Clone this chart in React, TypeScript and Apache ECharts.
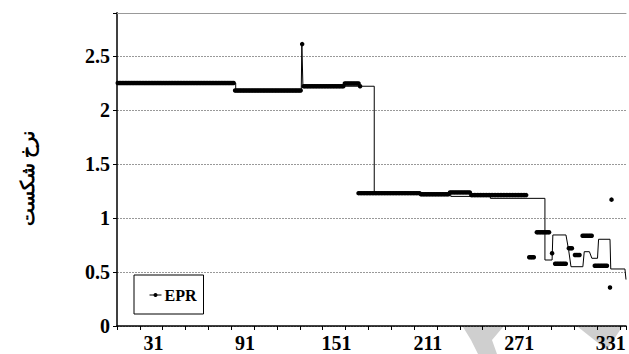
import React, { useEffect, useRef } from 'react';
import * as echarts from 'echarts';

// ---- data ----
const xMax = 334; // number of categories on the x axis
const xTickLabels = ['31', '91', '151', '211', '271', '331'];
const yTickLabels = ['0', '0.5', '1', '1.5', '2', '2.5'];
const yAxisName = 'نرخ شکست';
const legendName = 'EPR';

// EPR markers: runs of consecutive categories [firstCategory, lastCategory, value]
const eprRuns: [number, number, number][] = [
  [1, 77, 2.25],
  [78, 121, 2.18],
  [122, 122, 2.61],
  [123, 149, 2.22],
  [150, 159, 2.245],
  [160, 160, 2.22],
  [159, 199, 1.23],
  [200, 218, 1.22],
  [219, 232, 1.237],
  [233, 269, 1.212],
  [271, 274, 0.636],
  [276, 284, 0.868],
  [286, 286, 0.673],
  [288, 295, 0.577],
  [297, 299, 0.72],
  [301, 304, 0.657],
  [306, 312, 0.836],
  [314, 322, 0.558],
  [324, 324, 0.357],
  [325, 325, 1.17],
];

// thin reference line: vertices (x position on the category scale, value)
const lineX = [0, 77.9, 77.9, 120.9, 121.3, 122.0, 168.8, 168.8, 199, 199, 219, 219, 245, 245, 280.8, 280.8, 285.5, 286, 294.6, 296.4, 297.9, 305.7, 306.6, 310, 311.6, 315.3, 316, 323.5, 324, 333.3, 334];
const lineY = [2.25, 2.25, 2.18, 2.18, 2.61, 2.22, 2.22, 1.23, 1.23, 1.22, 1.22, 1.2, 1.2, 1.182, 1.182, 0.611, 0.611, 0.843, 0.843, 0.7, 0.549, 0.549, 0.688, 0.688, 0.627, 0.627, 0.803, 0.803, 0.528, 0.528, 0.43];

const SERIF = 'Times New Roman, serif';

export default function App() {
  const ref = useRef<HTMLDivElement>(null);
  useEffect(() => {
    const el = ref.current!;
    const chart = echarts.init(el, null, { renderer: 'svg' });

    const eprData: [number, number][] = [];
    eprRuns.forEach(([s, e, v]) => {
      for (let c = s; c <= e; c++) eprData.push([c - 0.5, v]);
    });
    const lineData = lineX.map((x, i) => [x, lineY[i]]);

    const option: any = {
      animation: false,
      backgroundColor: '#fff',
      textStyle: { fontFamily: SERIF },
      grid: { left: 117, right: 0, top: 12.8, bottom: 28, containLabel: false },
      graphic: [
        {
          type: 'polygon',
          z: -1,
          silent: true,
          shape: { points: [[463, 327], [503, 327], [492, 340], [497, 354], [478, 354], [471, 340]] },
          style: { fill: '#cfcfcf' },
        },
        {
          type: 'polygon',
          z: -1,
          silent: true,
          shape: { points: [[578, 327], [622, 327], [607, 350]] },
          style: { fill: '#cfcfcf' },
        },
      ],
      legend: {
        show: true,
        data: [{ name: legendName }],
        left: 134,
        top: 275,
        orient: 'vertical',
        padding: [12, 7, 11, 15],
        borderColor: '#000',
        borderWidth: 1,
        backgroundColor: '#fff',
        itemWidth: 12,
        itemHeight: 5,
        itemGap: 0,
        lineStyle: { width: 1, color: '#000', opacity: 1, type: 'solid' },
        itemStyle: { color: '#000' },
        textStyle: { fontFamily: SERIF, fontWeight: 'bold', fontSize: 16, color: '#000', padding: [0, 0, 0, -2] },
      },
      xAxis: [
        {
          type: 'value',
          min: 0,
          max: xMax,
          interval: 15,
          position: 'bottom',
          axisLine: { show: true, lineStyle: { color: '#000', width: 1.5 } },
          axisTick: { show: true, inside: false, length: 4, lineStyle: { color: '#000', width: 1 } },
          axisLabel: { show: false },
          splitLine: { show: false },
        },
        {
          type: 'value',
          min: 0,
          max: xMax,
          interval: 12,
          position: 'bottom',
          axisLine: { show: false },
          axisTick: { show: false },
          splitLine: { show: false },
          axisLabel: {
            show: true,
            margin: 7,
            color: '#000',
            fontFamily: SERIF,
            fontWeight: 'bold',
            fontSize: 20,
            formatter: (v: number) => {
              const k = (v - 24) / 60;
              if (Math.abs(k - Math.round(k)) < 1e-6 && k >= 0 && Math.round(k) < xTickLabels.length) {
                return xTickLabels[Math.round(k)];
              }
              return '';
            },
          },
        },
        {
          type: 'value',
          min: 0,
          max: xMax,
          position: 'top',
          axisLine: { show: true, lineStyle: { color: '#999', width: 1 } },
          axisTick: { show: false },
          axisLabel: { show: false },
          splitLine: { show: false },
        },
      ],
      yAxis: {
        type: 'value',
        min: 0,
        max: 2.9,
        interval: 0.5,
        name: yAxisName,
        nameLocation: 'middle',
        nameRotate: 90,
        nameGap: 80,
        nameTextStyle: { fontFamily: SERIF, fontWeight: 'bold', fontSize: 19, color: '#000', padding: [0, 18, 0, 0] },
        axisLine: { show: true, lineStyle: { color: '#000', width: 1.5 } },
        axisTick: { show: true, inside: false, length: 4, lineStyle: { color: '#000' } },
        splitLine: { show: true, lineStyle: { color: '#999', width: 1, type: [2, 1] } },
        axisLabel: {
          margin: 7,
          color: '#000',
          fontFamily: SERIF,
          fontWeight: 'bold',
          fontSize: 20,
          padding: [8, 0, 0, 0],
          formatter: (v: number) => {
            const idx = Math.round(v / 0.5);
            if (Math.abs(v - idx * 0.5) < 1e-6 && idx < yTickLabels.length) return yTickLabels[idx];
            return '';
          },
        },
      },
      series: [
        {
          name: 'ref',
          type: 'line',
          xAxisIndex: 0,
          data: lineData,
          showSymbol: false,
          symbol: 'none',
          lineStyle: { color: '#000', width: 1 },
          silent: true,
          z: 2,
        },
        {
          name: legendName,
          type: 'line',
          xAxisIndex: 0,
          data: eprData,
          symbol: 'circle',
          symbolSize: 4.5,
          showSymbol: true,
          showAllSymbol: true,
          lineStyle: { width: 0, color: '#000' },
          itemStyle: { color: '#000' },
          z: 3,
        },
      ],
    };
    chart.setOption(option);
    return () => chart.dispose();
  }, []);
  return (
    <div
      ref={ref}
      style={{ position: 'absolute', left: 0, top: 0, width: 629, height: 354, background: '#fff' }}
    />
  );
}
